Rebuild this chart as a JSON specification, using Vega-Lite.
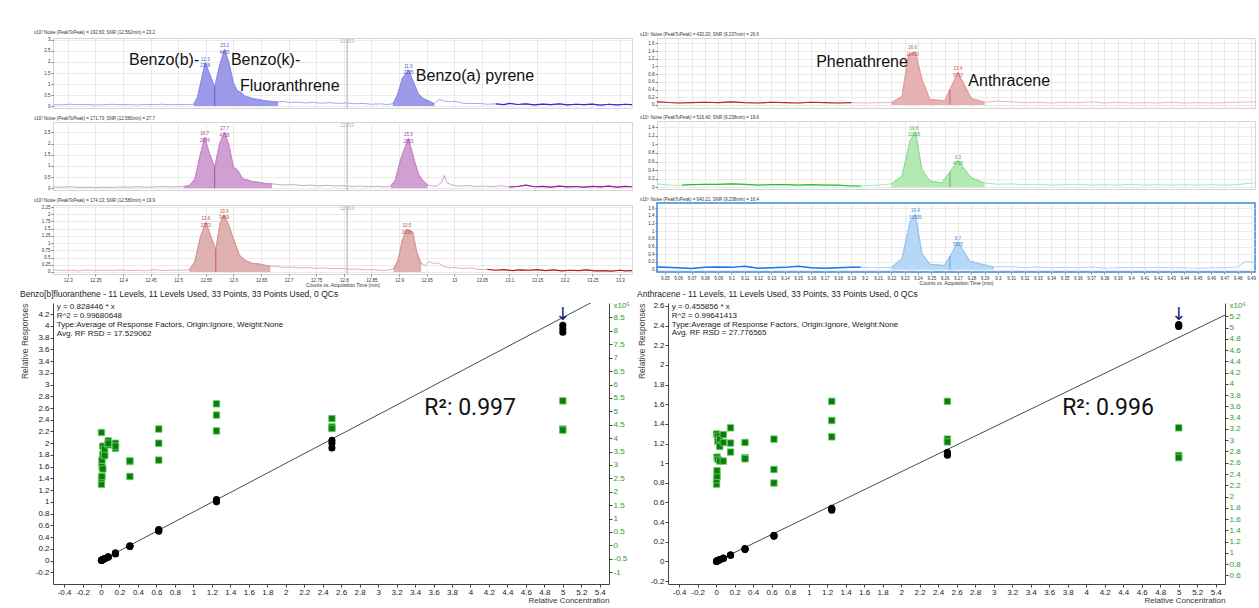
{
"$schema":"https://vega.github.io/schema/vega-lite/v6.json",
"background":"white",
"padding":{"left":19,"top":29,"right":0,"bottom":0},
"config":{"font":"Liberation Sans","view":{"stroke":"#d4d4d4"},"axis":{"labelFont":"Liberation Sans","titleFont":"Liberation Sans","labelOverlap":false,"labelFlush":false},"title":{"font":"Liberation Sans"}},
"datasets":{
"chrom":[
{"p":"L1","t":12.246,"v":0.06},{"p":"L1","t":12.26,"v":0.07},{"p":"L1","t":12.275,"v":0.05},{"p":"L1","t":12.29,"v":0.06},{"p":"L1","t":12.305,"v":0.08},{"p":"L1","t":12.32,"v":0.06},{"p":"L1","t":12.335,"v":0.07},{"p":"L1","t":12.35,"v":0.05},{"p":"L1","t":12.365,"v":0.06},{"p":"L1","t":12.38,"v":0.08},{"p":"L1","t":12.395,"v":0.06},{"p":"L1","t":12.41,"v":0.07},{"p":"L1","t":12.425,"v":0.05},{"p":"L1","t":12.44,"v":0.07},{"p":"L1","t":12.455,"v":0.06},{"p":"L1","t":12.47,"v":0.08},{"p":"L1","t":12.485,"v":0.06},{"p":"L1","t":12.5,"v":0.07},{"p":"L1","t":12.515,"v":0.06},
{"p":"L1","t":12.528,"v":0.08,"f":"a"},{"p":"L1","t":12.535,"v":0.4,"f":"a"},{"p":"L1","t":12.542,"v":1.2,"f":"a"},{"p":"L1","t":12.549,"v":1.97,"f":"a"},{"p":"L1","t":12.557,"v":1.45,"f":"a"},{"p":"L1","t":12.566,"v":0.88,"f":"a"},{"p":"L1","t":12.575,"v":1.85,"f":"a"},{"p":"L1","t":12.584,"v":2.58,"f":"a"},{"p":"L1","t":12.592,"v":1.95,"f":"a"},{"p":"L1","t":12.6,"v":1.05,"f":"a"},{"p":"L1","t":12.607,"v":0.7,"f":"a"},{"p":"L1","t":12.614,"v":0.62,"f":"a"},{"p":"L1","t":12.62,"v":0.45,"f":"a"},{"p":"L1","t":12.628,"v":0.4,"f":"a"},{"p":"L1","t":12.636,"v":0.33,"f":"a"},{"p":"L1","t":12.645,"v":0.3,"f":"a"},{"p":"L1","t":12.655,"v":0.25,"f":"a"},{"p":"L1","t":12.665,"v":0.22,"f":"a"},{"p":"L1","t":12.681,"v":0.18,"f":"a"},
{"p":"L1","t":12.69,"v":0.21},{"p":"L1","t":12.7,"v":0.16},{"p":"L1","t":12.715,"v":0.18},{"p":"L1","t":12.73,"v":0.14},{"p":"L1","t":12.745,"v":0.16},{"p":"L1","t":12.76,"v":0.13},{"p":"L1","t":12.775,"v":0.15},{"p":"L1","t":12.79,"v":0.12},{"p":"L1","t":12.805,"v":0.14},{"p":"L1","t":12.82,"v":0.1},{"p":"L1","t":12.835,"v":0.12},{"p":"L1","t":12.85,"v":0.08},{"p":"L1","t":12.865,"v":0.1},{"p":"L1","t":12.878,"v":0.07},
{"p":"L1","t":12.889,"v":0.1,"f":"b"},{"p":"L1","t":12.897,"v":0.5,"f":"b"},{"p":"L1","t":12.906,"v":1.25,"f":"b"},{"p":"L1","t":12.917,"v":1.64,"f":"b"},{"p":"L1","t":12.926,"v":1.1,"f":"b"},{"p":"L1","t":12.935,"v":0.55,"f":"b"},{"p":"L1","t":12.945,"v":0.32,"f":"b"},{"p":"L1","t":12.955,"v":0.22,"f":"b"},{"p":"L1","t":12.964,"v":0.1,"f":"b"},
{"p":"L1","t":12.972,"v":0.3},{"p":"L1","t":12.98,"v":0.24},{"p":"L1","t":12.99,"v":0.19},{"p":"L1","t":13.0,"v":0.22},{"p":"L1","t":13.015,"v":0.13},{"p":"L1","t":13.03,"v":0.11},{"p":"L1","t":13.045,"v":0.12},{"p":"L1","t":13.06,"v":0.08},{"p":"L1","t":13.075,"v":0.1},{"p":"L1","t":13.09,"v":0.06},{"p":"L1","t":13.1,"v":0.12},{"p":"L1","t":13.115,"v":0.07},{"p":"L1","t":13.13,"v":0.1},{"p":"L1","t":13.145,"v":0.05},{"p":"L1","t":13.16,"v":0.09},{"p":"L1","t":13.175,"v":0.06},{"p":"L1","t":13.19,"v":0.1},{"p":"L1","t":13.205,"v":0.05},{"p":"L1","t":13.22,"v":0.08},{"p":"L1","t":13.235,"v":0.06},{"p":"L1","t":13.25,"v":0.09},{"p":"L1","t":13.265,"v":0.04},{"p":"L1","t":13.28,"v":0.08},{"p":"L1","t":13.295,"v":0.05},{"p":"L1","t":13.31,"v":0.08},{"p":"L1","t":13.322,"v":0.06},

{"p":"L2","t":12.246,"v":0.05},{"p":"L2","t":12.26,"v":0.04},{"p":"L2","t":12.275,"v":0.06},{"p":"L2","t":12.29,"v":0.05},{"p":"L2","t":12.305,"v":0.07},{"p":"L2","t":12.32,"v":0.04},{"p":"L2","t":12.335,"v":0.05},{"p":"L2","t":12.35,"v":0.03},{"p":"L2","t":12.365,"v":0.05},{"p":"L2","t":12.38,"v":0.04},{"p":"L2","t":12.395,"v":0.06},{"p":"L2","t":12.41,"v":0.05},{"p":"L2","t":12.425,"v":0.07},{"p":"L2","t":12.44,"v":0.05},{"p":"L2","t":12.455,"v":0.06},{"p":"L2","t":12.47,"v":0.08},{"p":"L2","t":12.485,"v":0.06},{"p":"L2","t":12.5,"v":0.07},
{"p":"L2","t":12.51,"v":0.08,"f":"a"},{"p":"L2","t":12.52,"v":0.12,"f":"a"},{"p":"L2","t":12.53,"v":0.4,"f":"a"},{"p":"L2","t":12.54,"v":1.5,"f":"a"},{"p":"L2","t":12.548,"v":2.28,"f":"a"},{"p":"L2","t":12.556,"v":1.6,"f":"a"},{"p":"L2","t":12.566,"v":0.94,"f":"a"},{"p":"L2","t":12.575,"v":2.0,"f":"a"},{"p":"L2","t":12.584,"v":2.5,"f":"a"},{"p":"L2","t":12.592,"v":1.9,"f":"a"},{"p":"L2","t":12.6,"v":0.95,"f":"a"},{"p":"L2","t":12.608,"v":0.8,"f":"a"},{"p":"L2","t":12.617,"v":0.42,"f":"a"},{"p":"L2","t":12.625,"v":0.38,"f":"a"},{"p":"L2","t":12.635,"v":0.3,"f":"a"},{"p":"L2","t":12.646,"v":0.27,"f":"a"},{"p":"L2","t":12.656,"v":0.22,"f":"a"},{"p":"L2","t":12.67,"v":0.2,"f":"a"},
{"p":"L2","t":12.68,"v":0.17},{"p":"L2","t":12.695,"v":0.15},{"p":"L2","t":12.71,"v":0.16},{"p":"L2","t":12.725,"v":0.12},{"p":"L2","t":12.74,"v":0.14},{"p":"L2","t":12.755,"v":0.11},{"p":"L2","t":12.77,"v":0.13},{"p":"L2","t":12.785,"v":0.1},{"p":"L2","t":12.8,"v":0.12},{"p":"L2","t":12.815,"v":0.08},{"p":"L2","t":12.83,"v":0.1},{"p":"L2","t":12.845,"v":0.07},{"p":"L2","t":12.86,"v":0.09},{"p":"L2","t":12.875,"v":0.06},
{"p":"L2","t":12.885,"v":0.1,"f":"b"},{"p":"L2","t":12.893,"v":0.35,"f":"b"},{"p":"L2","t":12.903,"v":1.3,"f":"b"},{"p":"L2","t":12.917,"v":2.23,"f":"b"},{"p":"L2","t":12.926,"v":1.4,"f":"b"},{"p":"L2","t":12.935,"v":0.65,"f":"b"},{"p":"L2","t":12.943,"v":0.35,"f":"b"},{"p":"L2","t":12.952,"v":0.15,"f":"b"},
{"p":"L2","t":12.96,"v":0.1},{"p":"L2","t":12.97,"v":0.12},{"p":"L2","t":12.978,"v":0.3},{"p":"L2","t":12.982,"v":0.57},{"p":"L2","t":12.987,"v":0.25},{"p":"L2","t":12.995,"v":0.15},{"p":"L2","t":13.01,"v":0.1},{"p":"L2","t":13.025,"v":0.12},{"p":"L2","t":13.04,"v":0.08},{"p":"L2","t":13.055,"v":0.1},{"p":"L2","t":13.07,"v":0.07},{"p":"L2","t":13.085,"v":0.12},{"p":"L2","t":13.1,"v":0.06},{"p":"L2","t":13.115,"v":0.08},{"p":"L2","t":13.13,"v":0.14},{"p":"L2","t":13.145,"v":0.07},{"p":"L2","t":13.16,"v":0.09},{"p":"L2","t":13.175,"v":0.05},{"p":"L2","t":13.19,"v":0.1},{"p":"L2","t":13.205,"v":0.06},{"p":"L2","t":13.22,"v":0.08},{"p":"L2","t":13.235,"v":0.05},{"p":"L2","t":13.25,"v":0.09},{"p":"L2","t":13.265,"v":0.06},{"p":"L2","t":13.28,"v":0.1},{"p":"L2","t":13.295,"v":0.05},{"p":"L2","t":13.31,"v":0.09},{"p":"L2","t":13.322,"v":0.07},

{"p":"L3","t":12.246,"v":0.06},{"p":"L3","t":12.26,"v":0.05},{"p":"L3","t":12.275,"v":0.07},{"p":"L3","t":12.29,"v":0.05},{"p":"L3","t":12.305,"v":0.06},{"p":"L3","t":12.32,"v":0.04},{"p":"L3","t":12.335,"v":0.07},{"p":"L3","t":12.35,"v":0.05},{"p":"L3","t":12.365,"v":0.06},{"p":"L3","t":12.38,"v":0.05},{"p":"L3","t":12.395,"v":0.07},{"p":"L3","t":12.41,"v":0.05},{"p":"L3","t":12.425,"v":0.06},{"p":"L3","t":12.44,"v":0.04},{"p":"L3","t":12.455,"v":0.08},{"p":"L3","t":12.47,"v":0.05},{"p":"L3","t":12.485,"v":0.06},{"p":"L3","t":12.5,"v":0.07},{"p":"L3","t":12.51,"v":0.06},
{"p":"L3","t":12.52,"v":0.08,"f":"a"},{"p":"L3","t":12.53,"v":0.35,"f":"a"},{"p":"L3","t":12.54,"v":1.2,"f":"a"},{"p":"L3","t":12.55,"v":1.73,"f":"a"},{"p":"L3","t":12.558,"v":1.3,"f":"a"},{"p":"L3","t":12.568,"v":0.78,"f":"a"},{"p":"L3","t":12.576,"v":1.7,"f":"a"},{"p":"L3","t":12.583,"v":1.98,"f":"a"},{"p":"L3","t":12.592,"v":1.6,"f":"a"},{"p":"L3","t":12.6,"v":1.15,"f":"a"},{"p":"L3","t":12.611,"v":0.58,"f":"a"},{"p":"L3","t":12.622,"v":0.4,"f":"a"},{"p":"L3","t":12.633,"v":0.3,"f":"a"},{"p":"L3","t":12.644,"v":0.29,"f":"a"},{"p":"L3","t":12.655,"v":0.24,"f":"a"},{"p":"L3","t":12.667,"v":0.2,"f":"a"},
{"p":"L3","t":12.675,"v":0.2},{"p":"L3","t":12.69,"v":0.16},{"p":"L3","t":12.705,"v":0.17},{"p":"L3","t":12.72,"v":0.14},{"p":"L3","t":12.735,"v":0.15},{"p":"L3","t":12.75,"v":0.12},{"p":"L3","t":12.765,"v":0.14},{"p":"L3","t":12.78,"v":0.11},{"p":"L3","t":12.795,"v":0.12},{"p":"L3","t":12.81,"v":0.09},{"p":"L3","t":12.825,"v":0.1},{"p":"L3","t":12.84,"v":0.07},{"p":"L3","t":12.855,"v":0.08},{"p":"L3","t":12.87,"v":0.05},{"p":"L3","t":12.882,"v":0.07},
{"p":"L3","t":12.89,"v":0.1,"f":"b"},{"p":"L3","t":12.898,"v":0.4,"f":"b"},{"p":"L3","t":12.906,"v":1.1,"f":"b"},{"p":"L3","t":12.914,"v":1.48,"f":"b"},{"p":"L3","t":12.925,"v":1.38,"f":"b"},{"p":"L3","t":12.932,"v":0.7,"f":"b"},{"p":"L3","t":12.94,"v":0.3,"f":"b"},
{"p":"L3","t":12.948,"v":0.22},{"p":"L3","t":12.955,"v":0.37},{"p":"L3","t":12.962,"v":0.28},{"p":"L3","t":12.97,"v":0.32},{"p":"L3","t":12.98,"v":0.2},{"p":"L3","t":12.99,"v":0.14},{"p":"L3","t":13.0,"v":0.16},{"p":"L3","t":13.015,"v":0.12},{"p":"L3","t":13.03,"v":0.14},{"p":"L3","t":13.045,"v":0.08},{"p":"L3","t":13.06,"v":0.09},{"p":"L3","t":13.075,"v":0.06},{"p":"L3","t":13.09,"v":0.08},{"p":"L3","t":13.105,"v":0.05},{"p":"L3","t":13.12,"v":0.07},{"p":"L3","t":13.135,"v":0.06},{"p":"L3","t":13.15,"v":0.08},{"p":"L3","t":13.165,"v":0.05},{"p":"L3","t":13.18,"v":0.07},{"p":"L3","t":13.195,"v":0.04},{"p":"L3","t":13.21,"v":0.06},{"p":"L3","t":13.225,"v":0.05},{"p":"L3","t":13.24,"v":0.07},{"p":"L3","t":13.255,"v":0.04},{"p":"L3","t":13.27,"v":0.05},{"p":"L3","t":13.285,"v":0.03},{"p":"L3","t":13.3,"v":0.06},{"p":"L3","t":13.31,"v":0.04},{"p":"L3","t":13.322,"v":0.05},

{"p":"R1","t":9.044,"v":0.08},{"p":"R1","t":9.05,"v":0.07},{"p":"R1","t":9.06,"v":0.05},{"p":"R1","t":9.07,"v":0.06},{"p":"R1","t":9.08,"v":0.07},{"p":"R1","t":9.09,"v":0.06},{"p":"R1","t":9.1,"v":0.08},{"p":"R1","t":9.11,"v":0.06},{"p":"R1","t":9.12,"v":0.05},{"p":"R1","t":9.13,"v":0.07},{"p":"R1","t":9.14,"v":0.06},{"p":"R1","t":9.15,"v":0.05},{"p":"R1","t":9.16,"v":0.07},{"p":"R1","t":9.17,"v":0.06},{"p":"R1","t":9.18,"v":0.05},{"p":"R1","t":9.19,"v":0.06},{"p":"R1","t":9.2,"v":0.05},{"p":"R1","t":9.21,"v":0.06},
{"p":"R1","t":9.22,"v":0.06,"f":"a"},{"p":"R1","t":9.228,"v":0.22,"f":"a"},{"p":"R1","t":9.233,"v":1.32,"f":"a"},{"p":"R1","t":9.238,"v":1.38,"f":"a"},{"p":"R1","t":9.243,"v":0.67,"f":"a"},{"p":"R1","t":9.249,"v":0.14,"f":"a"},{"p":"R1","t":9.26,"v":0.11,"f":"a"},{"p":"R1","t":9.27,"v":0.85,"f":"a"},{"p":"R1","t":9.28,"v":0.17,"f":"a"},{"p":"R1","t":9.29,"v":0.07,"f":"a"},
{"p":"R1","t":9.3,"v":0.1},{"p":"R1","t":9.31,"v":0.08},{"p":"R1","t":9.32,"v":0.06},{"p":"R1","t":9.33,"v":0.07},{"p":"R1","t":9.34,"v":0.05},{"p":"R1","t":9.35,"v":0.07},{"p":"R1","t":9.36,"v":0.06},{"p":"R1","t":9.37,"v":0.08},{"p":"R1","t":9.38,"v":0.05},{"p":"R1","t":9.39,"v":0.07},{"p":"R1","t":9.4,"v":0.05},{"p":"R1","t":9.41,"v":0.06},{"p":"R1","t":9.42,"v":0.05},{"p":"R1","t":9.43,"v":0.07},{"p":"R1","t":9.44,"v":0.05},{"p":"R1","t":9.45,"v":0.06},{"p":"R1","t":9.46,"v":0.05},{"p":"R1","t":9.47,"v":0.06},{"p":"R1","t":9.48,"v":0.07},{"p":"R1","t":9.493,"v":0.08},

{"p":"R2","t":9.044,"v":0.08},{"p":"R2","t":9.05,"v":0.06},{"p":"R2","t":9.06,"v":0.04},{"p":"R2","t":9.063,"v":0.05},{"p":"R2","t":9.07,"v":0.06},{"p":"R2","t":9.08,"v":0.07},{"p":"R2","t":9.09,"v":0.07},{"p":"R2","t":9.1,"v":0.08},{"p":"R2","t":9.11,"v":0.07},{"p":"R2","t":9.12,"v":0.05},{"p":"R2","t":9.13,"v":0.06},{"p":"R2","t":9.14,"v":0.06},{"p":"R2","t":9.15,"v":0.05},{"p":"R2","t":9.16,"v":0.06},{"p":"R2","t":9.17,"v":0.05},{"p":"R2","t":9.18,"v":0.05},{"p":"R2","t":9.19,"v":0.03},{"p":"R2","t":9.197,"v":0.03},{"p":"R2","t":9.2,"v":0.04},{"p":"R2","t":9.21,"v":0.05},
{"p":"R2","t":9.22,"v":0.08,"f":"a"},{"p":"R2","t":9.228,"v":0.26,"f":"a"},{"p":"R2","t":9.234,"v":1.08,"f":"a"},{"p":"R2","t":9.238,"v":1.3,"f":"a"},{"p":"R2","t":9.243,"v":0.41,"f":"a"},{"p":"R2","t":9.249,"v":0.15,"f":"a"},{"p":"R2","t":9.258,"v":0.1,"f":"a"},{"p":"R2","t":9.27,"v":0.62,"f":"a"},{"p":"R2","t":9.28,"v":0.22,"f":"a"},{"p":"R2","t":9.29,"v":0.1,"f":"a"},
{"p":"R2","t":9.3,"v":0.07},{"p":"R2","t":9.31,"v":0.08},{"p":"R2","t":9.32,"v":0.06},{"p":"R2","t":9.33,"v":0.07},{"p":"R2","t":9.34,"v":0.05},{"p":"R2","t":9.35,"v":0.06},{"p":"R2","t":9.36,"v":0.07},{"p":"R2","t":9.37,"v":0.05},{"p":"R2","t":9.38,"v":0.06},{"p":"R2","t":9.39,"v":0.05},{"p":"R2","t":9.4,"v":0.07},{"p":"R2","t":9.41,"v":0.05},{"p":"R2","t":9.42,"v":0.06},{"p":"R2","t":9.43,"v":0.05},{"p":"R2","t":9.44,"v":0.06},{"p":"R2","t":9.45,"v":0.05},{"p":"R2","t":9.46,"v":0.06},{"p":"R2","t":9.47,"v":0.05},{"p":"R2","t":9.48,"v":0.06},{"p":"R2","t":9.487,"v":0.09},{"p":"R2","t":9.493,"v":0.1},

{"p":"R3","t":9.044,"v":0.07},{"p":"R3","t":9.05,"v":0.06},{"p":"R3","t":9.06,"v":0.05},{"p":"R3","t":9.07,"v":0.03},{"p":"R3","t":9.08,"v":0.06},{"p":"R3","t":9.09,"v":0.07},{"p":"R3","t":9.1,"v":0.06},{"p":"R3","t":9.11,"v":0.09},{"p":"R3","t":9.12,"v":0.04},{"p":"R3","t":9.13,"v":0.05},{"p":"R3","t":9.14,"v":0.06},{"p":"R3","t":9.15,"v":0.09},{"p":"R3","t":9.16,"v":0.05},{"p":"R3","t":9.17,"v":0.04},{"p":"R3","t":9.18,"v":0.05},{"p":"R3","t":9.19,"v":0.06},{"p":"R3","t":9.197,"v":0.06},{"p":"R3","t":9.21,"v":0.05},
{"p":"R3","t":9.22,"v":0.06,"f":"a"},{"p":"R3","t":9.228,"v":0.29,"f":"a"},{"p":"R3","t":9.234,"v":1.24,"f":"a"},{"p":"R3","t":9.238,"v":1.44,"f":"a"},{"p":"R3","t":9.243,"v":0.42,"f":"a"},{"p":"R3","t":9.249,"v":0.14,"f":"a"},{"p":"R3","t":9.26,"v":0.11,"f":"a"},{"p":"R3","t":9.27,"v":0.72,"f":"a"},{"p":"R3","t":9.279,"v":0.22,"f":"a"},{"p":"R3","t":9.288,"v":0.14,"f":"a"},{"p":"R3","t":9.297,"v":0.07,"f":"a"},
{"p":"R3","t":9.31,"v":0.08},{"p":"R3","t":9.32,"v":0.05},{"p":"R3","t":9.33,"v":0.07},{"p":"R3","t":9.34,"v":0.05},{"p":"R3","t":9.35,"v":0.06},{"p":"R3","t":9.36,"v":0.05},{"p":"R3","t":9.37,"v":0.07},{"p":"R3","t":9.38,"v":0.04},{"p":"R3","t":9.39,"v":0.05},{"p":"R3","t":9.4,"v":0.06},{"p":"R3","t":9.41,"v":0.05},{"p":"R3","t":9.42,"v":0.06},{"p":"R3","t":9.43,"v":0.05},{"p":"R3","t":9.44,"v":0.05},{"p":"R3","t":9.45,"v":0.04},{"p":"R3","t":9.46,"v":0.05},{"p":"R3","t":9.47,"v":0.05},{"p":"R3","t":9.48,"v":0.07},{"p":"R3","t":9.486,"v":0.22},{"p":"R3","t":9.493,"v":0.18}
],
"pk":[
{"p":"L1","t":12.549,"v":1.97,"lab":"12.3\n2368"},{"p":"L1","t":12.584,"v":2.58,"lab":"23.2\n4465"},{"p":"L1","t":12.917,"v":1.64,"lab":"11.9\n2295"},
{"p":"L2","t":12.548,"v":2.28,"lab":"16.7\n2876"},{"p":"L2","t":12.584,"v":2.5,"lab":"27.7\n4758"},{"p":"L2","t":12.917,"v":2.23,"lab":"15.5\n2853"},
{"p":"L3","t":12.55,"v":1.73,"lab":"13.6\n2373"},{"p":"L3","t":12.583,"v":1.98,"lab":"19.9\n3469"},{"p":"L3","t":12.914,"v":1.48,"lab":"10.5\n1836"},
{"p":"R1","t":9.236,"v":1.4,"lab":"26.6\n11430"},{"p":"R1","t":9.27,"v":0.85,"lab":"13.4\n5767"},
{"p":"R2","t":9.237,"v":1.3,"lab":"19.6\n10126"},{"p":"R2","t":9.27,"v":0.62,"lab":"9.3\n4736"},
{"p":"R3","t":9.238,"v":1.44,"lab":"16.4\n10505"},{"p":"R3","t":9.27,"v":0.72,"lab":"8.7\n5505"}
],
"spl":[
{"p":"L1","t":12.566,"v":0.88},{"p":"L2","t":12.566,"v":0.94},{"p":"L3","t":12.568,"v":0.78},
{"p":"R1","t":9.264,"v":0.4},{"p":"R2","t":9.264,"v":0.35},{"p":"R3","t":9.264,"v":0.35}
],
"mk":[
{"p":"L1","t":12.806,"v":3.05,"lab":"12.813"},{"p":"L2","t":12.806,"v":2.92,"lab":"12.813"},{"p":"L3","t":12.806,"v":2.29,"lab":"12.813"}
],
"ann":[
{"p":"L1","t":12.4108,"v":2.09,"txt":"Benzo(b)-"},{"p":"L1","t":12.5955,"v":2.09,"txt":"Benzo(k)-"},{"p":"L1","t":12.612,"v":0.91,"txt":"Fluoranthrene"},{"p":"L1","t":12.9305,"v":1.36,"txt":"Benzo(a) pyrene"},
{"p":"R1","t":9.1636,"v":1.11,"txt":"Phenathrene"},{"p":"R1","t":9.2778,"v":0.63,"txt":"Anthracene"}
],
"fit":[{"c":"L","x":0,"y":0},{"c":"L","x":5.5,"y":4.5565},{"c":"R","x":0,"y":0},{"c":"R","x":5.5,"y":2.5072}],
"blk":[
{"c":"L","x":0.0049,"y":0.004},{"c":"L","x":0.0049,"y":0.003},{"c":"L","x":0.0049,"y":0.005},
{"c":"L","x":0.0098,"y":0.009},{"c":"L","x":0.0098,"y":0.008},{"c":"L","x":0.0098,"y":0.007},
{"c":"L","x":0.0195,"y":0.018},{"c":"L","x":0.0195,"y":0.015},{"c":"L","x":0.0195,"y":0.017},
{"c":"L","x":0.039,"y":0.035},{"c":"L","x":0.039,"y":0.03},{"c":"L","x":0.039,"y":0.033},
{"c":"L","x":0.078,"y":0.065},{"c":"L","x":0.078,"y":0.06},{"c":"L","x":0.078,"y":0.056},
{"c":"L","x":0.156,"y":0.13},{"c":"L","x":0.156,"y":0.12},{"c":"L","x":0.156,"y":0.11},
{"c":"L","x":0.3125,"y":0.25},{"c":"L","x":0.3125,"y":0.24},{"c":"L","x":0.3125,"y":0.245},
{"c":"L","x":0.625,"y":0.53},{"c":"L","x":0.625,"y":0.51},{"c":"L","x":0.625,"y":0.5},
{"c":"L","x":1.25,"y":1.04},{"c":"L","x":1.25,"y":1.02},{"c":"L","x":1.25,"y":1.0},
{"c":"L","x":2.5,"y":2.05},{"c":"L","x":2.5,"y":2.0},{"c":"L","x":2.5,"y":1.92},
{"c":"L","x":5,"y":4.01},{"c":"L","x":5,"y":3.89},{"c":"L","x":5,"y":3.95},
{"c":"R","x":0.0049,"y":0.002},{"c":"R","x":0.0049,"y":0.0025},{"c":"R","x":0.0049,"y":0.0022},
{"c":"R","x":0.0098,"y":0.0045},{"c":"R","x":0.0098,"y":0.004},{"c":"R","x":0.0098,"y":0.005},
{"c":"R","x":0.0195,"y":0.009},{"c":"R","x":0.0195,"y":0.008},{"c":"R","x":0.0195,"y":0.0085},
{"c":"R","x":0.039,"y":0.018},{"c":"R","x":0.039,"y":0.016},{"c":"R","x":0.039,"y":0.017},
{"c":"R","x":0.078,"y":0.035},{"c":"R","x":0.078,"y":0.032},{"c":"R","x":0.078,"y":0.03},
{"c":"R","x":0.156,"y":0.066},{"c":"R","x":0.156,"y":0.064},{"c":"R","x":0.156,"y":0.062},
{"c":"R","x":0.3125,"y":0.13},{"c":"R","x":0.3125,"y":0.125},{"c":"R","x":0.3125,"y":0.12},
{"c":"R","x":0.625,"y":0.265},{"c":"R","x":0.625,"y":0.26},{"c":"R","x":0.625,"y":0.255},
{"c":"R","x":1.25,"y":0.54},{"c":"R","x":1.25,"y":0.53},{"c":"R","x":1.25,"y":0.52},
{"c":"R","x":2.5,"y":1.11},{"c":"R","x":2.5,"y":1.09},{"c":"R","x":2.5,"y":1.08},
{"c":"R","x":5,"y":2.4},{"c":"R","x":5,"y":2.39},{"c":"R","x":5,"y":2.41}
],
"grn":[
{"c":"L","x":0.0049,"g":4.21},{"c":"L","x":0.0049,"g":2.28},{"c":"L","x":0.0049,"g":2.5},
{"c":"L","x":0.0098,"g":2.57},{"c":"L","x":0.0098,"g":2.94},{"c":"L","x":0.0098,"g":3.18},
{"c":"L","x":0.0195,"g":3.7},{"c":"L","x":0.0195,"g":2.85},{"c":"L","x":0.0195,"g":3.4},
{"c":"L","x":0.039,"g":3.4},{"c":"L","x":0.039,"g":3.59},{"c":"L","x":0.039,"g":3.35},
{"c":"L","x":0.078,"g":3.9},{"c":"L","x":0.078,"g":3.75},{"c":"L","x":0.078,"g":3.81},
{"c":"L","x":0.156,"g":3.81},{"c":"L","x":0.156,"g":3.62},{"c":"L","x":0.156,"g":3.7},
{"c":"L","x":0.3125,"g":3.13},{"c":"L","x":0.3125,"g":2.57},{"c":"L","x":0.3125,"g":3.15},
{"c":"L","x":0.625,"g":4.34},{"c":"L","x":0.625,"g":3.81},{"c":"L","x":0.625,"g":3.18},
{"c":"L","x":1.25,"g":5.28},{"c":"L","x":1.25,"g":4.86},{"c":"L","x":1.25,"g":4.27},
{"c":"L","x":2.5,"g":4.73},{"c":"L","x":2.5,"g":4.42},{"c":"L","x":2.5,"g":4.36},
{"c":"L","x":5,"g":5.39},{"c":"L","x":5,"g":4.34},{"c":"L","x":5,"g":4.3},
{"c":"R","x":0.0049,"g":3.11},{"c":"R","x":0.0049,"g":2.22},{"c":"R","x":0.0049,"g":2.3},
{"c":"R","x":0.0098,"g":2.7},{"c":"R","x":0.0098,"g":2.36},{"c":"R","x":0.0098,"g":2.46},
{"c":"R","x":0.0195,"g":2.66},{"c":"R","x":0.0195,"g":3.07},{"c":"R","x":0.0195,"g":2.98},
{"c":"R","x":0.039,"g":2.89},{"c":"R","x":0.039,"g":2.63},{"c":"R","x":0.039,"g":3.02},
{"c":"R","x":0.078,"g":3.1},{"c":"R","x":0.078,"g":2.96},{"c":"R","x":0.078,"g":2.63},
{"c":"R","x":0.156,"g":3.22},{"c":"R","x":0.156,"g":2.95},{"c":"R","x":0.156,"g":2.79},
{"c":"R","x":0.3125,"g":2.96},{"c":"R","x":0.3125,"g":2.69},{"c":"R","x":0.3125,"g":2.67},
{"c":"R","x":0.625,"g":3.02},{"c":"R","x":0.625,"g":2.48},{"c":"R","x":0.625,"g":2.24},
{"c":"R","x":1.25,"g":3.69},{"c":"R","x":1.25,"g":3.35},{"c":"R","x":1.25,"g":3.06},
{"c":"R","x":2.5,"g":3.69},{"c":"R","x":2.5,"g":3.02},{"c":"R","x":2.5,"g":2.97},
{"c":"R","x":5,"g":3.22},{"c":"R","x":5,"g":2.73},{"c":"R","x":5,"g":2.69}
],
"note":[
{"c":"L","x":-0.48,"y":4.32,"txt":"y = 0.828446 * x"},{"c":"L","x":-0.48,"y":4.17,"txt":"R^2 = 0.99680648"},{"c":"L","x":-0.48,"y":4.02,"txt":"Type:Average of Response Factors, Origin:Ignore, Weight:None"},{"c":"L","x":-0.48,"y":3.87,"txt":"Avg. RF RSD = 17.529062"},
{"c":"R","x":-0.48,"y":2.59,"txt":"y = 0.455856 * x"},{"c":"R","x":-0.48,"y":2.5,"txt":"R^2 = 0.99641413"},{"c":"R","x":-0.48,"y":2.41,"txt":"Type:Average of Response Factors, Origin:Ignore, Weight:None"},{"c":"R","x":-0.48,"y":2.32,"txt":"Avg. RF RSD = 27.776565"}
],
"r2":[{"c":"L","x":3.5,"y":2.6,"txt":"R²: 0.997"},{"c":"R","x":3.74,"y":1.56,"txt":"R²: 0.996"}],
"arr":[{"c":"L","x":5,"y":4.18,"txt":"↓"},{"c":"R","x":5,"y":2.51,"txt":"↓"}]
},
"vconcat":[
{"hconcat":[
{"vconcat":[
{"width":579,"height":70,
"title":{"text":"x10³  Noise (PeakToPeak) = 192.83; SNR (12.562min) = 23.2","fontSize":4.5,"fontWeight":"normal","color":"#333","anchor":"start","frame":"bounds","offset":2},
"encoding":{"x":{"field":"t","type":"quantitative","scale":{"domain":[12.2732,13.322],"nice":false,"zero":false},"axis":{"values":[12.3,12.35,12.4,12.45,12.5,12.55,12.6,12.65,12.7,12.75,12.8,12.85,12.9,12.95,13,13.05,13.1,13.15,13.2,13.25,13.3],"labels":false,"ticks":false,"domain":false,"grid":true,"gridColor":"#e3e3e3","gridWidth":0.7,"title":null,"minExtent":0,"maxExtent":0}},
"y":{"field":"v","type":"quantitative","scale":{"domain":[-0.09,3.09],"nice":false,"zero":false},"axis":{"values":[0,0.5,1,1.5,2,2.5,3],"labelExpr":"''+datum.value","labelFontSize":4.5,"labelColor":"#333","labelOverlap":false,"tickSize":2,"tickColor":"#777","labelPadding":1,"domain":false,"grid":true,"gridColor":"#e3e3e3","gridWidth":0.7,"title":null,"minExtent":19,"maxExtent":19}}},
"layer":[
{"data":{"name":"chrom"},"transform":[{"filter":{"field":"p","equal":"L1"}},{"filter":{"field":"t","gte":12.2732}},{"filter":"isValid(datum.f)"}],"mark":{"type":"area","color":"#8a8ae6","opacity":0.85,"line":{"color":"#5a5ad8","strokeWidth":0.6}},"encoding":{"y2":{"datum":0},"detail":{"field":"f","type":"nominal"}}},
{"data":{"name":"chrom"},"transform":[{"filter":{"field":"p","equal":"L1"}}],"mark":{"type":"line","color":"#8f8ff2","strokeWidth":0.8,"clip":true},"encoding":{}},
{"data":{"name":"chrom"},"transform":[{"filter":{"field":"p","equal":"L1"}},{"filter":{"field":"t","gte":13.075}}],"mark":{"type":"line","color":"#2b2bd6","strokeWidth":1.2},"encoding":{}},
{"data":{"name":"spl"},"transform":[{"filter":{"field":"p","equal":"L1"}}],"mark":{"type":"rule","color":"#4040c0","strokeWidth":0.7},"encoding":{"y2":{"datum":0}}},
{"data":{"name":"mk"},"transform":[{"filter":{"field":"p","equal":"L1"}}],"mark":{"type":"rule","color":"#c4c4c4","strokeWidth":1.5},"encoding":{"y2":{"datum":-0.09}}},
{"data":{"name":"mk"},"transform":[{"filter":{"field":"p","equal":"L1"}}],"mark":{"type":"text","fontSize":4.5,"color":"#aaa","baseline":"top"},"encoding":{"text":{"field":"lab","type":"nominal"}}},
{"data":{"name":"pk"},"transform":[{"filter":{"field":"p","equal":"L1"}}],"mark":{"type":"text","fontSize":4.5,"color":"#5050d0","baseline":"bottom","dy":-1,"lineBreak":"\n"},"encoding":{"text":{"field":"lab","type":"nominal"}}},
{"data":{"name":"ann"},"transform":[{"filter":{"field":"p","equal":"L1"}}],"mark":{"type":"text","fontSize":16,"align":"left","baseline":"middle","color":"#111"},"encoding":{"text":{"field":"txt","type":"nominal"}}}
]},
{"width":579,"height":68,
"title":{"text":"x10³  Noise (PeakToPeak) = 171.73; SNR (12.580min) = 27.7","fontSize":4.5,"fontWeight":"normal","color":"#333","anchor":"start","frame":"bounds","offset":2},
"encoding":{"x":{"field":"t","type":"quantitative","scale":{"domain":[12.2732,13.322],"nice":false,"zero":false},"axis":{"values":[12.3,12.35,12.4,12.45,12.5,12.55,12.6,12.65,12.7,12.75,12.8,12.85,12.9,12.95,13,13.05,13.1,13.15,13.2,13.25,13.3],"labels":false,"ticks":false,"domain":false,"grid":true,"gridColor":"#e3e3e3","gridWidth":0.7,"title":null,"minExtent":0,"maxExtent":0}},
"y":{"field":"v","type":"quantitative","scale":{"domain":[-0.076,2.96],"nice":false,"zero":false},"axis":{"values":[0,0.5,1,1.5,2,2.5],"labelExpr":"''+datum.value","labelFontSize":4.5,"labelColor":"#333","labelOverlap":false,"tickSize":2,"tickColor":"#777","labelPadding":1,"domain":false,"grid":true,"gridColor":"#e3e3e3","gridWidth":0.7,"title":null,"minExtent":19,"maxExtent":19}}},
"layer":[
{"data":{"name":"chrom"},"transform":[{"filter":{"field":"p","equal":"L2"}},{"filter":"isValid(datum.f)"}],"mark":{"type":"area","color":"#c98ec9","opacity":0.85,"line":{"color":"#a050a0","strokeWidth":0.6}},"encoding":{"y2":{"datum":0},"detail":{"field":"f","type":"nominal"}}},
{"data":{"name":"chrom"},"transform":[{"filter":{"field":"p","equal":"L2"}}],"mark":{"type":"line","color":"#c68ac6","strokeWidth":0.8,"clip":true},"encoding":{}},
{"data":{"name":"chrom"},"transform":[{"filter":{"field":"p","equal":"L2"}},{"filter":{"field":"t","gte":13.1}}],"mark":{"type":"line","color":"#8e1f8e","strokeWidth":1.2},"encoding":{}},
{"data":{"name":"spl"},"transform":[{"filter":{"field":"p","equal":"L2"}}],"mark":{"type":"rule","color":"#903090","strokeWidth":0.7},"encoding":{"y2":{"datum":0}}},
{"data":{"name":"mk"},"transform":[{"filter":{"field":"p","equal":"L2"}}],"mark":{"type":"rule","color":"#c4c4c4","strokeWidth":1.5},"encoding":{"y2":{"datum":-0.076}}},
{"data":{"name":"mk"},"transform":[{"filter":{"field":"p","equal":"L2"}}],"mark":{"type":"text","fontSize":4.5,"color":"#aaa","baseline":"top"},"encoding":{"text":{"field":"lab","type":"nominal"}}},
{"data":{"name":"pk"},"transform":[{"filter":{"field":"p","equal":"L2"}}],"mark":{"type":"text","fontSize":4.5,"color":"#a040a0","baseline":"bottom","dy":-1,"lineBreak":"\n"},"encoding":{"text":{"field":"lab","type":"nominal"}}}
]},
{"width":579,"height":69,
"title":{"text":"x10³  Noise (PeakToPeak) = 174.13; SNR (12.580min) = 19.9","fontSize":4.5,"fontWeight":"normal","color":"#333","anchor":"start","frame":"bounds","offset":2},
"encoding":{"x":{"field":"t","type":"quantitative","scale":{"domain":[12.2732,13.322],"nice":false,"zero":false},"axis":{"values":[12.3,12.35,12.4,12.45,12.5,12.55,12.6,12.65,12.7,12.75,12.8,12.85,12.9,12.95,13,13.05,13.1,13.15,13.2,13.25,13.3],"labelExpr":"''+datum.value","labelFontSize":4.5,"labelColor":"#333","labelOverlap":false,"labelPadding":1,"ticks":true,"tickSize":2,"tickColor":"#888","domain":false,"grid":true,"gridColor":"#e3e3e3","gridWidth":0.7,"title":"Counts vs. Acquisition Time (min)","titleFontSize":5,"titleFontWeight":"normal","titleColor":"#333","titlePadding":1}},
"y":{"field":"v","type":"quantitative","scale":{"domain":[-0.07,2.32],"nice":false,"zero":false},"axis":{"values":[0,0.25,0.5,0.75,1,1.25,1.5,1.75,2,2.25],"labelExpr":"''+datum.value","labelFontSize":4.5,"labelColor":"#333","labelOverlap":false,"tickSize":2,"tickColor":"#777","labelPadding":1,"domain":false,"grid":true,"gridColor":"#e3e3e3","gridWidth":0.7,"title":null,"minExtent":19,"maxExtent":19}}},
"layer":[
{"data":{"name":"chrom"},"transform":[{"filter":{"field":"p","equal":"L3"}},{"filter":"isValid(datum.f)"}],"mark":{"type":"area","color":"#d9a3a3","opacity":0.85,"line":{"color":"#b86060","strokeWidth":0.6}},"encoding":{"y2":{"datum":0},"detail":{"field":"f","type":"nominal"}}},
{"data":{"name":"chrom"},"transform":[{"filter":{"field":"p","equal":"L3"}}],"mark":{"type":"line","color":"#d99a9a","strokeWidth":0.8,"clip":true},"encoding":{}},
{"data":{"name":"chrom"},"transform":[{"filter":{"field":"p","equal":"L3"}},{"filter":{"field":"t","gte":13.05}}],"mark":{"type":"line","color":"#b41d1d","strokeWidth":1.2},"encoding":{}},
{"data":{"name":"spl"},"transform":[{"filter":{"field":"p","equal":"L3"}}],"mark":{"type":"rule","color":"#b04040","strokeWidth":0.7},"encoding":{"y2":{"datum":0}}},
{"data":{"name":"mk"},"transform":[{"filter":{"field":"p","equal":"L3"}}],"mark":{"type":"rule","color":"#c4c4c4","strokeWidth":1.5},"encoding":{"y2":{"datum":-0.07}}},
{"data":{"name":"mk"},"transform":[{"filter":{"field":"p","equal":"L3"}}],"mark":{"type":"text","fontSize":4.5,"color":"#aaa","baseline":"top"},"encoding":{"text":{"field":"lab","type":"nominal"}}},
{"data":{"name":"pk"},"transform":[{"filter":{"field":"p","equal":"L3"}}],"mark":{"type":"text","fontSize":4.5,"color":"#c04848","baseline":"bottom","dy":-1,"lineBreak":"\n"},"encoding":{"text":{"field":"lab","type":"nominal"}}}
]}
],"spacing":5},
{"vconcat":[
{"width":598,"height":70,
"title":{"text":"x10⁴  Noise (PeakToPeak) = 430.20; SNR (9.237min) = 26.6","fontSize":4.5,"fontWeight":"normal","color":"#333","anchor":"start","frame":"bounds","offset":2},
"encoding":{"x":{"field":"t","type":"quantitative","scale":{"domain":[9.0441,9.493],"nice":false,"zero":false},"axis":{"values":[9.05,9.06,9.07,9.08,9.09,9.1,9.11,9.12,9.13,9.14,9.15,9.16,9.17,9.18,9.19,9.2,9.21,9.22,9.23,9.24,9.25,9.26,9.27,9.28,9.29,9.3,9.31,9.32,9.33,9.34,9.35,9.36,9.37,9.38,9.39,9.4,9.41,9.42,9.43,9.44,9.45,9.46,9.47,9.48,9.49],"labels":false,"ticks":false,"domain":false,"grid":true,"gridColor":"#e3e3e3","gridWidth":0.7,"title":null,"minExtent":0,"maxExtent":0}},
"y":{"field":"v","type":"quantitative","scale":{"domain":[-0.08,1.74],"nice":false,"zero":false},"axis":{"values":[0,0.2,0.4,0.6,0.8,1,1.2,1.4,1.6],"labelExpr":"''+datum.value","labelFontSize":4.5,"labelColor":"#333","labelOverlap":false,"tickSize":2,"tickColor":"#777","labelPadding":1,"domain":false,"grid":true,"gridColor":"#e3e3e3","gridWidth":0.7,"title":null,"minExtent":17,"maxExtent":17}}},
"layer":[
{"data":{"name":"chrom"},"transform":[{"filter":{"field":"p","equal":"R1"}},{"filter":"isValid(datum.f)"}],"mark":{"type":"area","color":"#e3a5a5","opacity":0.85,"line":{"color":"#c86464","strokeWidth":0.6}},"encoding":{"y2":{"datum":0},"detail":{"field":"f","type":"nominal"}}},
{"data":{"name":"chrom"},"transform":[{"filter":{"field":"p","equal":"R1"}}],"mark":{"type":"line","color":"#e6a3a3","strokeWidth":0.8},"encoding":{}},
{"data":{"name":"chrom"},"transform":[{"filter":{"field":"p","equal":"R1"}},{"filter":{"field":"t","lte":9.197}}],"mark":{"type":"line","color":"#b82828","strokeWidth":1.2},"encoding":{}},
{"data":{"name":"spl"},"transform":[{"filter":{"field":"p","equal":"R1"}}],"mark":{"type":"rule","color":"#b04040","strokeWidth":0.7},"encoding":{"y2":{"datum":0}}},
{"data":{"name":"pk"},"transform":[{"filter":{"field":"p","equal":"R1"}}],"mark":{"type":"text","fontSize":4.5,"color":"#c85050","baseline":"bottom","dy":-1,"lineBreak":"\n"},"encoding":{"text":{"field":"lab","type":"nominal"}}},
{"data":{"name":"ann"},"transform":[{"filter":{"field":"p","equal":"R1"}}],"mark":{"type":"text","fontSize":16,"align":"left","baseline":"middle","color":"#111"},"encoding":{"text":{"field":"txt","type":"nominal"}}}
]},
{"width":598,"height":68,
"title":{"text":"x10⁴  Noise (PeakToPeak) = 516.40; SNR (9.238min) = 19.6","fontSize":4.5,"fontWeight":"normal","color":"#333","anchor":"start","frame":"bounds","offset":2},
"encoding":{"x":{"field":"t","type":"quantitative","scale":{"domain":[9.0441,9.493],"nice":false,"zero":false},"axis":{"values":[9.05,9.06,9.07,9.08,9.09,9.1,9.11,9.12,9.13,9.14,9.15,9.16,9.17,9.18,9.19,9.2,9.21,9.22,9.23,9.24,9.25,9.26,9.27,9.28,9.29,9.3,9.31,9.32,9.33,9.34,9.35,9.36,9.37,9.38,9.39,9.4,9.41,9.42,9.43,9.44,9.45,9.46,9.47,9.48,9.49],"labels":false,"ticks":false,"domain":false,"grid":true,"gridColor":"#e3e3e3","gridWidth":0.7,"title":null,"minExtent":0,"maxExtent":0}},
"y":{"field":"v","type":"quantitative","scale":{"domain":[-0.04,1.545],"nice":false,"zero":false},"axis":{"values":[0,0.2,0.4,0.6,0.8,1,1.2,1.4],"labelExpr":"''+datum.value","labelFontSize":4.5,"labelColor":"#333","labelOverlap":false,"tickSize":2,"tickColor":"#777","labelPadding":1,"domain":false,"grid":true,"gridColor":"#e3e3e3","gridWidth":0.7,"title":null,"minExtent":17,"maxExtent":17}}},
"layer":[
{"data":{"name":"chrom"},"transform":[{"filter":{"field":"p","equal":"R2"}},{"filter":"isValid(datum.f)"}],"mark":{"type":"area","color":"#a6e6a6","opacity":0.85,"line":{"color":"#60c060","strokeWidth":0.6}},"encoding":{"y2":{"datum":0},"detail":{"field":"f","type":"nominal"}}},
{"data":{"name":"chrom"},"transform":[{"filter":{"field":"p","equal":"R2"}}],"mark":{"type":"line","color":"#94e094","strokeWidth":0.8},"encoding":{}},
{"data":{"name":"chrom"},"transform":[{"filter":{"field":"p","equal":"R2"}},{"filter":{"field":"t","range":[9.063,9.197]}}],"mark":{"type":"line","color":"#28c028","strokeWidth":1.2},"encoding":{}},
{"data":{"name":"spl"},"transform":[{"filter":{"field":"p","equal":"R2"}}],"mark":{"type":"rule","color":"#40a040","strokeWidth":0.7},"encoding":{"y2":{"datum":0}}},
{"data":{"name":"pk"},"transform":[{"filter":{"field":"p","equal":"R2"}}],"mark":{"type":"text","fontSize":4.5,"color":"#40b040","baseline":"bottom","dy":-1,"lineBreak":"\n"},"encoding":{"text":{"field":"lab","type":"nominal"}}}
]},
{"width":598,"height":69,"view":{"stroke":"#3f84e0","strokeWidth":1.5},
"title":{"text":"x10⁴  Noise (PeakToPeak) = 640.21; SNR (9.238min) = 16.4","fontSize":4.5,"fontWeight":"normal","color":"#333","anchor":"start","frame":"bounds","offset":2},
"encoding":{"x":{"field":"t","type":"quantitative","scale":{"domain":[9.0441,9.493],"nice":false,"zero":false},"axis":{"values":[9.05,9.06,9.07,9.08,9.09,9.1,9.11,9.12,9.13,9.14,9.15,9.16,9.17,9.18,9.19,9.2,9.21,9.22,9.23,9.24,9.25,9.26,9.27,9.28,9.29,9.3,9.31,9.32,9.33,9.34,9.35,9.36,9.37,9.38,9.39,9.4,9.41,9.42,9.43,9.44,9.45,9.46,9.47,9.48,9.49],"labelExpr":"''+datum.value","labelFontSize":4.5,"labelColor":"#333","labelOverlap":false,"labelPadding":1,"ticks":true,"tickSize":2,"tickColor":"#888","domain":false,"grid":true,"gridColor":"#e3e3e3","gridWidth":0.7,"title":"Counts vs. Acquisition Time (min)","titleFontSize":5,"titleFontWeight":"normal","titleColor":"#333","titlePadding":1}},
"y":{"field":"v","type":"quantitative","scale":{"domain":[-0.06,1.73],"nice":false,"zero":false},"axis":{"values":[0,0.2,0.4,0.6,0.8,1,1.2,1.4,1.6],"labelExpr":"''+datum.value","labelFontSize":4.5,"labelColor":"#333","labelOverlap":false,"tickSize":2,"tickColor":"#777","labelPadding":1,"domain":false,"grid":true,"gridColor":"#e3e3e3","gridWidth":0.7,"title":null,"minExtent":17,"maxExtent":17}}},
"layer":[
{"data":{"name":"chrom"},"transform":[{"filter":{"field":"p","equal":"R3"}},{"filter":"isValid(datum.f)"}],"mark":{"type":"area","color":"#a9d0f6","opacity":0.85,"line":{"color":"#5ea0e0","strokeWidth":0.6}},"encoding":{"y2":{"datum":0},"detail":{"field":"f","type":"nominal"}}},
{"data":{"name":"chrom"},"transform":[{"filter":{"field":"p","equal":"R3"}}],"mark":{"type":"line","color":"#98c8f4","strokeWidth":0.8},"encoding":{}},
{"data":{"name":"chrom"},"transform":[{"filter":{"field":"p","equal":"R3"}},{"filter":{"field":"t","lte":9.197}}],"mark":{"type":"line","color":"#1c78e6","strokeWidth":1.5},"encoding":{}},
{"data":{"name":"spl"},"transform":[{"filter":{"field":"p","equal":"R3"}}],"mark":{"type":"rule","color":"#4a8ad8","strokeWidth":0.7},"encoding":{"y2":{"datum":0}}},
{"data":{"name":"pk"},"transform":[{"filter":{"field":"p","equal":"R3"}}],"mark":{"type":"text","fontSize":4.5,"color":"#3a8ae0","baseline":"bottom","dy":-1,"lineBreak":"\n"},"encoding":{"text":{"field":"lab","type":"nominal"}}}
]}
],"spacing":5}
],"spacing":4},
{"hconcat":[
{"width":556,"height":281,"view":{"stroke":null},
"title":{"text":"Benzo[b]fluoranthene - 11 Levels, 11 Levels Used, 33 Points, 33 Points Used, 0 QCs","fontSize":8.5,"fontWeight":"normal","color":"#222","anchor":"start","frame":"bounds","offset":3},
"encoding":{"x":{"field":"x","type":"quantitative","scale":{"domain":[-0.52,5.5],"nice":false,"zero":false},"axis":{"values":[-0.4,-0.2,0,0.2,0.4,0.6,0.8,1,1.2,1.4,1.6,1.8,2,2.2,2.4,2.6,2.8,3,3.2,3.4,3.6,3.8,4,4.2,4.4,4.6,4.8,5,5.2,5.4],"labelExpr":"''+datum.value","labelFontSize":8,"labelColor":"#222","labelOverlap":false,"labelFlush":false,"labelPadding":1,"tickSize":3,"tickColor":"#444","domainColor":"#444","grid":false,"title":"Relative Concentration","titleFontSize":8,"titleFontWeight":"normal","titleColor":"#333","titleAnchor":"end","titlePadding":0}}},
"layer":[
{"encoding":{
"y":{"field":"y","type":"quantitative","scale":{"domain":[-0.4,4.39],"nice":false,"zero":false},"axis":{"values":[-0.2,0,0.2,0.4,0.6,0.8,1,1.2,1.4,1.6,1.8,2,2.2,2.4,2.6,2.8,3,3.2,3.4,3.6,3.8,4,4.2],"labelExpr":"''+datum.value","labelFontSize":8,"labelColor":"#222","labelOverlap":false,"labelPadding":1,"tickSize":3,"tickColor":"#444","domainColor":"#444","grid":false,"title":"Relative Responses","titleFontSize":8.5,"titleFontWeight":"normal","titleColor":"#444","titleAnchor":"end","titlePadding":4,"minExtent":20,"maxExtent":20}}},
"layer":[
{"data":{"name":"fit"},"transform":[{"filter":{"field":"c","equal":"L"}}],"mark":{"type":"line","color":"#4a4a4a","strokeWidth":1,"clip":true},"encoding":{}},
{"data":{"name":"blk"},"transform":[{"filter":{"field":"c","equal":"L"}}],"mark":{"type":"point","shape":"circle","filled":true,"color":"#000000","size":50,"opacity":1},"encoding":{}},
{"data":{"name":"note"},"transform":[{"filter":{"field":"c","equal":"L"}}],"mark":{"type":"text","align":"left","baseline":"middle","fontSize":8,"color":"#222"},"encoding":{"text":{"field":"txt","type":"nominal"}}},
{"data":{"name":"r2"},"transform":[{"filter":{"field":"c","equal":"L"}}],"mark":{"type":"text","align":"left","baseline":"middle","fontSize":23,"font":"Roboto","color":"#111"},"encoding":{"text":{"field":"txt","type":"nominal"}}},
{"data":{"name":"arr"},"transform":[{"filter":{"field":"c","equal":"L"}}],"mark":{"type":"text","align":"center","baseline":"middle","fontSize":18,"font":"DejaVu Sans","color":"#1a237e"},"encoding":{"text":{"field":"txt","type":"nominal"}}}
]},
{"data":{"name":"grn"},"transform":[{"filter":{"field":"c","equal":"L"}}],"mark":{"type":"square","filled":true,"color":"#0b7d0b","size":42,"opacity":1,"stroke":"#6ccf6c","strokeWidth":0.8},
"encoding":{"y":{"field":"g","type":"quantitative","scale":{"domain":[-1.44,9.04],"nice":false,"zero":false},"axis":{"orient":"right","values":[-1,-0.5,0,0.5,1,1.5,2,2.5,3,3.5,4,4.5,5,5.5,6,6.5,7,7.5,8,8.5],"labelExpr":"''+datum.value","labelFontSize":8,"labelColor":"#2e9e2e","labelOverlap":false,"labelPadding":1,"tickSize":3,"tickColor":"#444","domainColor":"#444","grid":false,"title":"x10⁵","titleColor":"#2e9e2e","titleFontSize":8,"titleFontWeight":"normal","titleAngle":0,"titleAlign":"left","titleBaseline":"middle","titleX":4,"titleY":2,"minExtent":20,"maxExtent":20}}}}
],
"resolve":{"scale":{"y":"independent"}}},
{"width":557,"height":281,"view":{"stroke":null},
"title":{"text":"Anthracene - 11 Levels, 11 Levels Used, 33 Points, 33 Points Used, 0 QCs","fontSize":8.5,"fontWeight":"normal","color":"#222","anchor":"start","frame":"bounds","offset":3},
"encoding":{"x":{"field":"x","type":"quantitative","scale":{"domain":[-0.52,5.5],"nice":false,"zero":false},"axis":{"values":[-0.4,-0.2,0,0.2,0.4,0.6,0.8,1,1.2,1.4,1.6,1.8,2,2.2,2.4,2.6,2.8,3,3.2,3.4,3.6,3.8,4,4.2,4.4,4.6,4.8,5,5.2,5.4],"labelExpr":"''+datum.value","labelFontSize":8,"labelColor":"#222","labelOverlap":false,"labelFlush":false,"labelPadding":1,"tickSize":3,"tickColor":"#444","domainColor":"#444","grid":false,"title":"Relative Concentration","titleFontSize":8,"titleFontWeight":"normal","titleColor":"#333","titleAnchor":"end","titlePadding":0}}},
"layer":[
{"encoding":{
"y":{"field":"y","type":"quantitative","scale":{"domain":[-0.23,2.63],"nice":false,"zero":false},"axis":{"values":[-0.2,0,0.2,0.4,0.6,0.8,1,1.2,1.4,1.6,1.8,2,2.2,2.4,2.6],"labelExpr":"''+datum.value","labelFontSize":8,"labelColor":"#222","labelOverlap":false,"labelPadding":1,"tickSize":3,"tickColor":"#444","domainColor":"#444","grid":false,"title":"Relative Responses","titleFontSize":8.5,"titleFontWeight":"normal","titleColor":"#444","titleAnchor":"end","titlePadding":4,"minExtent":18,"maxExtent":18}}},
"layer":[
{"data":{"name":"fit"},"transform":[{"filter":{"field":"c","equal":"R"}}],"mark":{"type":"line","color":"#4a4a4a","strokeWidth":1,"clip":true},"encoding":{}},
{"data":{"name":"blk"},"transform":[{"filter":{"field":"c","equal":"R"}}],"mark":{"type":"point","shape":"circle","filled":true,"color":"#000000","size":50,"opacity":1},"encoding":{}},
{"data":{"name":"note"},"transform":[{"filter":{"field":"c","equal":"R"}}],"mark":{"type":"text","align":"left","baseline":"middle","fontSize":8,"color":"#222"},"encoding":{"text":{"field":"txt","type":"nominal"}}},
{"data":{"name":"r2"},"transform":[{"filter":{"field":"c","equal":"R"}}],"mark":{"type":"text","align":"left","baseline":"middle","fontSize":23,"font":"Roboto","color":"#111"},"encoding":{"text":{"field":"txt","type":"nominal"}}},
{"data":{"name":"arr"},"transform":[{"filter":{"field":"c","equal":"R"}}],"mark":{"type":"text","align":"center","baseline":"middle","fontSize":18,"font":"DejaVu Sans","color":"#1a237e"},"encoding":{"text":{"field":"txt","type":"nominal"}}}
]},
{"data":{"name":"grn"},"transform":[{"filter":{"field":"c","equal":"R"}}],"mark":{"type":"square","filled":true,"color":"#0b7d0b","size":42,"opacity":1,"stroke":"#6ccf6c","strokeWidth":0.8},
"encoding":{"y":{"field":"g","type":"quantitative","scale":{"domain":[0.448,5.436],"nice":false,"zero":false},"axis":{"orient":"right","values":[0.6,0.8,1,1.2,1.4,1.6,1.8,2,2.2,2.4,2.6,2.8,3,3.2,3.4,3.6,3.8,4,4.2,4.4,4.6,4.8,5,5.2],"labelExpr":"''+datum.value","labelFontSize":8,"labelColor":"#2e9e2e","labelOverlap":false,"labelPadding":1,"tickSize":3,"tickColor":"#444","domainColor":"#444","grid":false,"title":"x10⁶","titleColor":"#2e9e2e","titleFontSize":8,"titleFontWeight":"normal","titleAngle":0,"titleAlign":"left","titleBaseline":"middle","titleX":4,"titleY":2,"minExtent":20,"maxExtent":20}}}}
],
"resolve":{"scale":{"y":"independent"}}}
],"spacing":6}
],
"spacing":1
}
